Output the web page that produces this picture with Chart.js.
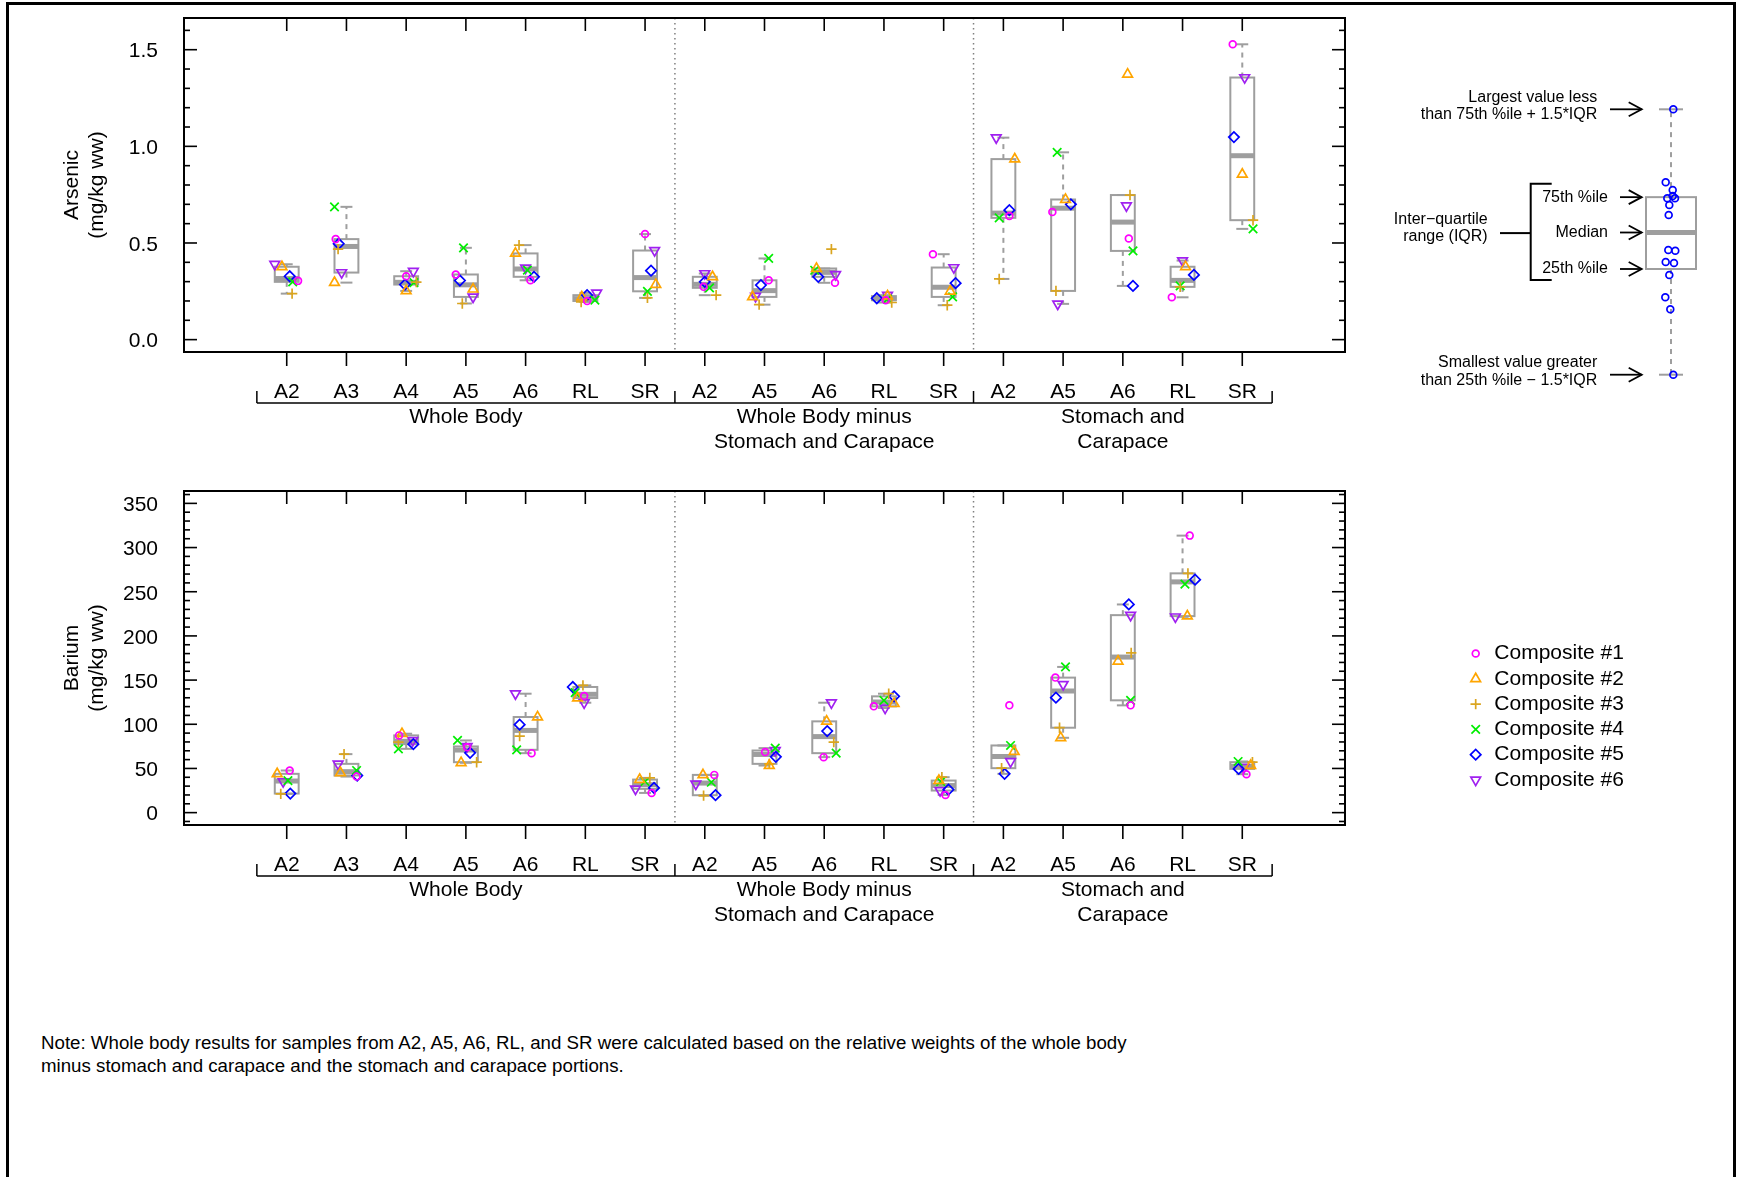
<!DOCTYPE html>
<html>
<head>
<meta charset="utf-8">
<script src="https://cdn.jsdelivr.net/npm/chart.js@4/dist/chart.umd.min.js"></script>
<style>
  body { margin: 0; background: #fff; }
  #page { position: relative; width: 1737px; height: 1177px; overflow: hidden; font-family: "Liberation Sans", Arial, sans-serif; }
  #frame { position: absolute; left: 6px; top: 2px; width: 1730px; height: 1200px; border: 3px solid #000; box-sizing: border-box; }
  canvas { position: absolute; }
  #arsenicChart { left: 0; top: 0; }
  #bariumChart { left: 0; top: 473px; }
  #keyChart { left: 1380px; top: 60px; }
  #note { position: absolute; left: 41px; top: 1031px; font-size: 18.7px; line-height: 23px; color: #000; }
</style>
</head>
<body>
<div id="page">
  <div id="frame"></div>
  <canvas id="arsenicChart" width="1737" height="470"></canvas>
  <canvas id="bariumChart" width="1737" height="470"></canvas>
  <canvas id="keyChart" width="357" height="350"></canvas>
  <div id="note">Note: Whole body results for samples from A2, A5, A6, RL, and SR were calculated based on the relative weights of the whole body<br>minus stomach and carapace and the stomach and carapace portions.</div>
</div>
<script>
// categories: sample sites, grouped by tissue portion
const sites = ['A2', 'A3', 'A4', 'A5', 'A6', 'RL', 'SR', 'A2', 'A5', 'A6', 'RL', 'SR', 'A2', 'A5', 'A6', 'RL', 'SR'];
const groupNames = [['Whole Body'], ['Whole Body minus', 'Stomach and Carapace'], ['Stomach and', 'Carapace']];
const groupSizes = [7, 5, 5];
const composites = ['Composite #1', 'Composite #2', 'Composite #3', 'Composite #4', 'Composite #5', 'Composite #6'];

// arsenic (mg/kg ww), one row per composite, one value per site
const arsenic = [
  [0.304, 0.52, 0.328, 0.337, 0.307, 0.2, 0.546, 0.273, 0.307, 0.294, 0.204, 0.442, 0.639, 0.66, 0.523, 0.219, 1.528],
  [0.377, 0.295, 0.252, 0.261, 0.446, 0.22, 0.285, 0.325, 0.221, 0.368, 0.225, 0.25, 0.934, 0.725, 1.373, 0.377, 0.855],
  [0.238, 0.468, 0.298, 0.187, 0.489, 0.195, 0.216, 0.23, 0.181, 0.468, 0.192, 0.178, 0.314, 0.252, 0.748, 0.273, 0.618],
  [0.299, 0.687, 0.295, 0.475, 0.36, 0.204, 0.25, 0.268, 0.42, 0.359, 0.21, 0.221, 0.63, 0.969, 0.459, 0.278, 0.573],
  [0.328, 0.496, 0.285, 0.306, 0.325, 0.23, 0.357, 0.299, 0.282, 0.325, 0.214, 0.292, 0.67, 0.7, 0.278, 0.335, 1.048],
  [0.39, 0.347, 0.354, 0.221, 0.371, 0.242, 0.461, 0.342, 0.225, 0.337, 0.23, 0.373, 1.045, 0.185, 0.693, 0.409, 1.356]
];
// horizontal jitter of each point (category units)
const arsenicJitter = [
  [0.19, -0.18, 0, -0.17, 0.08, 0.03, 0, -0.02, 0.07, 0.18, 0.03, -0.18, 0.1, -0.18, 0.1, -0.18, -0.16],
  [-0.08, -0.2, 0, 0.12, -0.17, -0.06, 0.18, 0.13, -0.2, -0.13, 0.06, 0.11, 0.19, 0.04, 0.08, 0.05, 0],
  [0.09, -0.14, 0.17, -0.06, -0.11, -0.07, 0.04, 0.19, -0.09, 0.12, 0.13, 0.06, -0.07, -0.12, 0.12, -0.04, 0.18],
  [0.1, -0.2, 0.13, -0.04, 0.03, 0.16, 0.04, 0.08, 0.07, -0.16, 0.06, 0.15, -0.07, -0.1, 0.17, -0.04, 0.18],
  [0.05, -0.13, -0.02, -0.1, 0.14, 0.03, 0.1, 0, -0.06, -0.1, -0.12, 0.2, 0.1, 0.13, 0.17, 0.19, -0.14],
  [-0.2, -0.08, 0.12, 0.12, 0, 0.19, 0.16, 0, -0.15, 0.19, 0.06, 0.17, -0.12, -0.09, 0.06, 0, 0.04]
];

// barium (mg/kg ww)
const barium = [
  [47.7, 40.8, 87.4, 74, 67.3, 132, 22.3, 42.7, 68.5, 62.8, 120.3, 20, 121.4, 152.8, 121.4, 313.5, 43.5],
  [43.9, 45, 89.3, 56.4, 108.2, 129.7, 37.4, 42.7, 53.3, 103.3, 123.3, 36.3, 69.2, 84.7, 171.3, 222.4, 53.3],
  [21.2, 66.2, 79.8, 57.1, 86.6, 144, 39.3, 19.3, 55.2, 79.8, 134.6, 40.1, 50.3, 96.1, 180.8, 270.8, 57.1],
  [36.3, 47.7, 72.2, 81.7, 71.1, 135.8, 35.2, 34.4, 73, 67.3, 127.1, 35.2, 76, 164.9, 127.1, 258.7, 57.9],
  [21.6, 42, 77.5, 67.7, 99.5, 142.2, 28, 19.7, 63.2, 92.3, 131.6, 26.1, 43.9, 130.1, 235.6, 263.6, 49.5],
  [35.2, 55.2, 81.7, 74.9, 134.6, 124.4, 26.9, 32.5, 70.3, 124.4, 118.4, 25, 57.9, 145.2, 223.5, 221.6, 51.4]
];
const bariumJitter = [
  [0.05, 0.17, -0.12, 0.02, 0.1, -0.02, 0.11, 0.16, 0.01, -0.01, -0.17, 0.03, 0.1, -0.13, 0.13, 0.12, 0.07],
  [-0.16, -0.1, -0.07, -0.08, 0.2, -0.13, -0.09, -0.03, 0.08, 0.04, 0.17, -0.08, 0.18, -0.04, -0.08, 0.08, 0.14],
  [-0.1, -0.04, -0.13, 0.18, -0.1, -0.04, 0.08, -0.02, 0.08, 0.16, 0.08, -0.03, -0.03, -0.06, 0.14, 0.09, 0.17],
  [0.02, 0.17, -0.13, -0.14, -0.15, -0.17, 0, 0.11, 0.18, 0.2, 0, -0.05, 0.12, 0.04, 0.13, 0.04, -0.07],
  [0.06, 0.18, 0.12, 0.07, -0.1, -0.21, 0.15, 0.18, 0.19, 0.05, 0.17, 0.08, 0.02, -0.12, 0.1, 0.21, -0.06],
  [-0.06, -0.14, 0.11, 0.02, -0.17, -0.02, -0.16, -0.15, 0.18, 0.12, 0.02, -0.06, 0.12, 0, 0.13, -0.12, 0.03]
];

const arsenicTicks = [0, 0.5, 1.0, 1.5];
const arsenicTickLabels = ['0.0', '0.5', '1.0', '1.5'];
const bariumTicks = [0, 50, 100, 150, 200, 250, 300, 350];
const bariumTickLabels = ['0', '50', '100', '150', '200', '250', '300', '350'];

// illustrative values for the box plot key
const keyValues = [30.07, 22.77, 22.0, 21.4, 21.17, 21.17, 20.5, 19.5, 16.0, 15.93, 14.8, 14.7, 13.5, 11.27, 10.07, 3.53];
const keyJitter = [0.23, -0.53, 0.17, 0.17, -0.37, 0.4, -0.17, -0.23, -0.27, 0.43, -0.53, 0.3, -0.17, -0.57, -0.07, 0.23];

const FONT = '"Liberation Sans", Arial, sans-serif';
const GRAY = '#9e9e9e';
Chart.defaults.font.family = FONT;

const markers = [
  { style: 'circle', rotation: 0, radius: 3.4, color: '#FF00FF' },
  { style: 'triangle', rotation: 0, radius: 5.6, color: '#FFA500' },
  { style: 'cross', rotation: 0, radius: 5.2, color: '#DAA520' },
  { style: 'crossRot', rotation: 0, radius: 6, color: '#00EE00' },
  { style: 'rectRot', rotation: 0, radius: 5.2, color: '#0000FF' },
  { style: 'triangle', rotation: 180, radius: 5.6, color: '#A020F0' }
];

// Tukey five-number summary, like R's fivenum
function fivenum(v) {
  const s = [...v].sort((a, b) => a - b);
  const n = s.length;
  const n4 = Math.floor((n + 3) / 2) / 2;
  const d = [1, n4, (n + 1) / 2, n + 1 - n4, n];
  return d.map(k => 0.5 * (s[Math.floor(k) - 1] + s[Math.ceil(k) - 1]));
}

function boxStats(v) {
  const f = fivenum(v);
  const iqr = f[3] - f[1];
  const inside = v.filter(a => a >= f[1] - 1.5 * iqr && a <= f[3] + 1.5 * iqr);
  return { lo: f[1], med: f[2], hi: f[3], wlo: Math.min(...inside), whi: Math.max(...inside) };
}

function line(ctx, x1, y1, x2, y2) {
  ctx.beginPath();
  ctx.moveTo(x1, y1);
  ctx.lineTo(x2, y2);
  ctx.stroke();
}

function drawBox(ctx, xs, ys, xc, st, halfW, capW) {
  const l = xs.getPixelForValue(xc - halfW), r = xs.getPixelForValue(xc + halfW);
  const m = xs.getPixelForValue(xc);
  const cl = xs.getPixelForValue(xc - capW), cr = xs.getPixelForValue(xc + capW);
  const yLo = ys.getPixelForValue(st.lo), yHi = ys.getPixelForValue(st.hi);
  const yMed = ys.getPixelForValue(st.med);
  const yWlo = ys.getPixelForValue(st.wlo), yWhi = ys.getPixelForValue(st.whi);
  ctx.save();
  ctx.strokeStyle = GRAY;
  ctx.lineWidth = 2;
  ctx.setLineDash([5, 5]);
  line(ctx, m, yHi, m, yWhi);
  line(ctx, m, yLo, m, yWlo);
  ctx.setLineDash([]);
  line(ctx, cl, yWhi, cr, yWhi);
  line(ctx, cl, yWlo, cr, yWlo);
  ctx.strokeRect(l, yHi, r - l, yLo - yHi);
  ctx.lineWidth = 5;
  line(ctx, l, yMed, r, yMed);
  ctx.restore();
}

// same shapes as Chart.js point styles, for the legend
function drawMarker(ctx, mk, x, y) {
  ctx.save();
  ctx.strokeStyle = mk.color;
  ctx.lineWidth = 1.7;
  ctx.beginPath();
  const r = mk.radius;
  if (mk.style === 'circle') {
    ctx.arc(x, y, r, 0, Math.PI * 2);
  } else if (mk.style === 'triangle') {
    let a = mk.rotation * Math.PI / 180;
    for (let k = 0; k < 3; k++) {
      const px = x + Math.sin(a) * r, py = y - Math.cos(a) * r;
      if (k === 0) ctx.moveTo(px, py); else ctx.lineTo(px, py);
      a += 2 * Math.PI / 3;
    }
    ctx.closePath();
  } else if (mk.style === 'cross') {
    ctx.moveTo(x - r, y); ctx.lineTo(x + r, y);
    ctx.moveTo(x, y - r); ctx.lineTo(x, y + r);
  } else if (mk.style === 'crossRot') {
    const o = r * Math.SQRT1_2;
    ctx.moveTo(x - o, y - o); ctx.lineTo(x + o, y + o);
    ctx.moveTo(x - o, y + o); ctx.lineTo(x + o, y - o);
  } else if (mk.style === 'rectRot') {
    ctx.moveTo(x - r, y); ctx.lineTo(x, y - r); ctx.lineTo(x + r, y); ctx.lineTo(x, y + r);
    ctx.closePath();
  }
  ctx.stroke();
  ctx.restore();
}

function panelPlugin(values, minorStep, minorFrom, minorTo, withLegend) {
  return {
    id: 'panel',
    beforeDatasetsDraw(chart) {
      const { ctx, chartArea: a, scales: { x, y } } = chart;
      // dotted separators between tissue groups
      ctx.save();
      ctx.strokeStyle = '#808080';
      ctx.lineWidth = 1.5;
      ctx.setLineDash([1.5, 3.5]);
      let pos = 0.5;
      groupSizes.slice(0, -1).forEach(n => {
        pos += n;
        const px = x.getPixelForValue(pos);
        line(ctx, px, a.top, px, a.bottom);
      });
      ctx.restore();
      sites.forEach((s, i) => {
        drawBox(ctx, x, y, i + 1, boxStats(values.map(row => row[i])), 0.2, 0.1);
      });
    },
    afterDraw(chart) {
      const { ctx, chartArea: a, scales: { x, y } } = chart;
      ctx.save();
      ctx.strokeStyle = '#000';
      ctx.fillStyle = '#000';
      ctx.lineWidth = 2;
      ctx.strokeRect(a.left, a.top, a.right - a.left, a.bottom - a.top);

      // inward y ticks on both sides
      ctx.lineWidth = 1.6;
      for (let k = minorFrom; k <= minorTo; k++) {
        const py = y.getPixelForValue(k * minorStep);
        const len = k % 5 === 0 ? 13 : 6;
        line(ctx, a.left, py, a.left + len, py);
        line(ctx, a.right - len, py, a.right, py);
      }

      // category ticks and labels
      ctx.font = '21px ' + FONT;
      ctx.textAlign = 'center';
      ctx.textBaseline = 'middle';
      sites.forEach((s, i) => {
        const px = x.getPixelForValue(i + 1);
        line(ctx, px, a.top, px, a.top + 13);
        line(ctx, px, a.bottom, px, a.bottom + 14);
        ctx.fillText(s, px, a.bottom + 40.5);
      });

      // group brackets
      const by = a.bottom + 51;
      ctx.lineWidth = 1.5;
      line(ctx, x.getPixelForValue(0.5), by, x.getPixelForValue(17.5), by);
      let start = 0.5;
      line(ctx, x.getPixelForValue(start), by - 12, x.getPixelForValue(start), by);
      groupSizes.forEach((n, g) => {
        const end = start + n;
        const pe = x.getPixelForValue(end);
        line(ctx, pe, by - 12, pe, by);
        const cx = x.getPixelForValue((start + end) / 2);
        groupNames[g].forEach((t, j) => ctx.fillText(t, cx, a.bottom + 65 + j * 25));
        start = end;
      });

      if (withLegend) {
        composites.forEach((name, k) => {
          const ly = 180.5 + k * 25.3;
          drawMarker(ctx, markers[k], 1475.7, ly);
          ctx.fillStyle = '#000';
          ctx.textAlign = 'left';
          ctx.fillText(name, 1494.3, ly);
        });
      }
      ctx.restore();
    }
  };
}

function makeDatasets(values, jitter) {
  return values.map((row, k) => ({
    label: composites[k],
    data: row.map((v, i) => ({ x: i + 1 + jitter[k][i], y: v })),
    showLine: false,
    pointStyle: markers[k].style,
    pointRotation: markers[k].rotation,
    pointRadius: markers[k].radius,
    pointBorderWidth: 1.7,
    pointBorderColor: markers[k].color,
    pointBackgroundColor: 'rgba(0,0,0,0)'
  }));
}

function panelOptions(yMin, yMax, ticks, tickLabels, title) {
  return {
    responsive: false,
    animation: false,
    events: [],
    layout: { autoPadding: false, padding: { left: 0, right: 392, top: 18, bottom: 118 } },
    plugins: { legend: { display: false }, tooltip: { enabled: false } },
    scales: {
      x: { type: 'linear', display: false, min: -0.72, max: 18.72 },
      y: {
        type: 'linear',
        min: yMin,
        max: yMax,
        grid: { display: false, drawTicks: false },
        border: { display: false },
        afterBuildTicks: ax => { ax.ticks = ticks.map(v => ({ value: v })); },
        afterFit: ax => { ax.width = 184; ax.paddingTop = 0; ax.paddingBottom = 0; },
        ticks: {
          padding: 26,
          labelOffset: 2,
          color: '#000',
          font: { family: FONT, size: 21 },
          callback: (v, i) => tickLabels[i]
        },
        title: {
          display: true,
          text: title,
          color: '#000',
          font: { family: FONT, size: 21 },
          padding: { top: 59.4, bottom: 0 }
        }
      }
    }
  };
}

// 4% axis expansion around 0-1.6 and 0-350, as in the original plot
new Chart(document.getElementById('arsenicChart'), {
  type: 'scatter',
  data: { datasets: makeDatasets(arsenic, arsenicJitter) },
  options: panelOptions(-0.064, 1.664, arsenicTicks, arsenicTickLabels, ['Arsenic', '(mg/kg ww)']),
  plugins: [panelPlugin(arsenic, 0.1, 0, 16, false)]
});

new Chart(document.getElementById('bariumChart'), {
  type: 'scatter',
  data: { datasets: makeDatasets(barium, bariumJitter) },
  options: panelOptions(-14, 364, bariumTicks, bariumTickLabels, ['Barium', '(mg/kg ww)']),
  plugins: [panelPlugin(barium, 10, -1, 36, true)]
});

// key explaining the box plot
const KEY_X = 29.1;

function arrow(ctx, x1, x2, y) {
  line(ctx, x1, y, x2, y);
  ctx.beginPath();
  ctx.moveTo(x2 - 13, y - 7);
  ctx.lineTo(x2, y);
  ctx.lineTo(x2 - 13, y + 7);
  ctx.stroke();
}

const keyPlugin = {
  id: 'key',
  beforeDatasetsDraw(chart) {
    const { ctx, scales: { x, y } } = chart;
    drawBox(ctx, x, y, KEY_X, boxStats(keyValues), 2.5, 1.2);
  },
  afterDraw(chart) {
    const { ctx, scales: { y } } = chart;
    const st = boxStats(keyValues);
    const yWhi = y.getPixelForValue(st.whi), yHi = y.getPixelForValue(st.hi);
    const yMed = y.getPixelForValue(st.med), yLo = y.getPixelForValue(st.lo);
    const yWlo = y.getPixelForValue(st.wlo);
    ctx.save();
    ctx.strokeStyle = '#000';
    ctx.fillStyle = '#000';
    ctx.lineWidth = 1.8;
    ctx.font = '16px ' + FONT;
    ctx.textAlign = 'right';
    ctx.textBaseline = 'alphabetic';
    ctx.fillText('Largest value less', 217.3, yWhi - 7.7);
    ctx.fillText('than 75th %ile + 1.5*IQR', 217.3, yWhi + 9.3);
    ctx.fillText('Smallest value greater', 217.3, yWlo - 7.5);
    ctx.fillText('than 25th %ile \u2212 1.5*IQR', 217.3, yWlo + 9.8);
    arrow(ctx, 230, 261.7, yWhi);
    arrow(ctx, 230, 261.7, yWlo);

    ctx.textBaseline = 'middle';
    ctx.fillText('75th %ile', 228, yHi);
    ctx.fillText('Median', 228, yMed);
    ctx.fillText('25th %ile', 228, yLo);
    arrow(ctx, 240, 261.7, yHi);
    arrow(ctx, 240, 261.7, yMed);
    arrow(ctx, 240, 261.7, yLo);

    // bracket for the inter-quartile range
    ctx.lineWidth = 2;
    ctx.beginPath();
    ctx.moveTo(171.7, yHi - 13.3);
    ctx.lineTo(150.7, yHi - 13.3);
    ctx.lineTo(150.7, yLo + 11);
    ctx.lineTo(171.7, yLo + 11);
    ctx.stroke();
    line(ctx, 120, yMed + 0.6, 150.7, yMed + 0.6);
    ctx.fillText('Inter\u2212quartile', 107.7, yMed - 12.7);
    ctx.fillText('range (IQR)', 107.7, yMed + 4);
    ctx.restore();
  }
};

new Chart(document.getElementById('keyChart'), {
  type: 'scatter',
  data: {
    datasets: [{
      data: keyValues.map((v, i) => ({ x: KEY_X + keyJitter[i], y: v })),
      showLine: false,
      pointStyle: 'circle',
      pointRadius: 3.4,
      pointBorderWidth: 1.7,
      pointBorderColor: '#0000FF',
      pointBackgroundColor: 'rgba(0,0,0,0)'
    }]
  },
  options: {
    responsive: false,
    animation: false,
    events: [],
    layout: { autoPadding: false, padding: 0 },
    plugins: { legend: { display: false }, tooltip: { enabled: false } },
    scales: {
      x: { type: 'linear', display: false, min: 0, max: 35.7 },
      y: { type: 'linear', display: false, min: 0, max: 35 }
    }
  },
  plugins: [keyPlugin]
});
</script>
</body>
</html>
